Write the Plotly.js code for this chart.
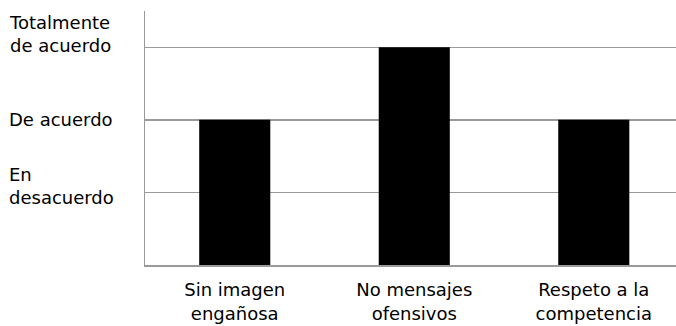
<!DOCTYPE html>
<html>
<head>
<meta charset="utf-8">
<script src="https://cdn.plot.ly/plotly-3.0.1.min.js"></script>
<style>html,body{margin:0;padding:0;background:#fff}#chart{width:676px;height:326px}</style>
</head>
<body>
<div id="chart"></div>
<script>
// Survey items and their agreement score (1 = En desacuerdo, 2 = De acuerdo, 3 = Totalmente de acuerdo)
const categories = ['Sin imagen<br>engañosa', 'No mensajes<br>ofensivos', 'Respeto a la<br>competencia'];
const scores = [2, 3, 2];

// Scale labels and the level each one refers to
const scaleLabels = ['Totalmente<br>de acuerdo', 'De acuerdo', 'En<br>desacuerdo'];
const scaleLevels = [3.18, 2.01, 1.09];

const font = {family: '"DejaVu Sans", sans-serif', size: 18, color: '#000'};
const plotLeft = 145, plotWidth = 531;

const annotations = scaleLabels.map((t, i) => ({
  text: t, xref: 'paper', yref: 'y',
  x: (7 - plotLeft) / plotWidth, y: scaleLevels[i],
  xanchor: 'left', yanchor: 'middle', align: 'left',
  showarrow: false, font: font
}));

const trace = {
  type: 'bar',
  x: [0, 1, 2],
  y: scores,
  width: 0.396,
  marker: {color: '#000', line: {width: 0}},
  hoverinfo: 'none'
};

const layout = {
  width: 676, height: 326,
  margin: {l: plotLeft, r: 0, t: 11, b: 61},
  paper_bgcolor: '#fff', plot_bgcolor: '#fff',
  showlegend: false,
  font: font,
  xaxis: {
    range: [-0.5, 2.458],
    tickvals: [0, 1, 2], ticktext: categories,
    ticks: '', ticklabelstandoff: 8,
    showgrid: false, zeroline: false,
    showline: true, linecolor: '#9a9a9a', linewidth: 1.5,
    tickfont: font, fixedrange: true
  },
  yaxis: {
    range: [0, 3.5],
    tickvals: [1, 2, 3], showticklabels: false, ticks: '',
    showgrid: true, gridcolor: '#9a9a9a', gridwidth: 1.5,
    zeroline: false,
    showline: true, linecolor: '#9a9a9a', linewidth: 1.5,
    fixedrange: true
  },
  annotations: annotations
};

Plotly.newPlot('chart', [trace], layout, {staticPlot: true, displayModeBar: false});
</script>
</body>
</html>
